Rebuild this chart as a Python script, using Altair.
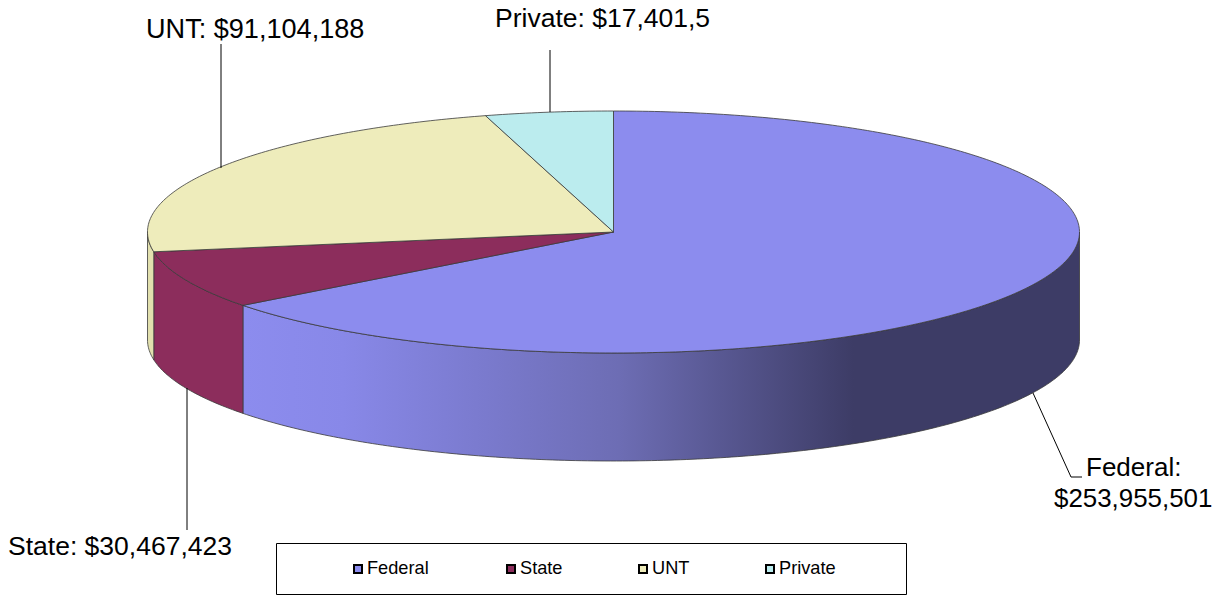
import math
import altair as alt
import pandas as pd

categories = ["Federal", "State", "UNT", "Private"]
values = [253955501, 30467423, 91104188, 17401500]
top_colors = ["#8C8CEE", "#8C2D5C", "#EEECBB", "#BBECEE"]
side_colors = ["#8C8CEE", "#8C2D5C", "#E2E0AE", "#BBECEE"]
label_lines = ["Federal:", "$253,955,501", "State: $30,467,423", "UNT: $91,104,188", "Private: $17,401,5"]
label_x = [1086, 1054, 8, 146, 495]
label_y = [476, 507, 555, 38, 27]
label_size = [26.0, 25.9, 26.5, 27.1, 26.5]
legend_x = [358, 511, 643, 770]

CX, CY, RX, RY, DEPTH = 613.5, 232, 466, 121, 108
XS = alt.Scale(domain=[8, 1217], nice=False, zero=False)
YS = alt.Scale(domain=[595, 8], nice=False, zero=False)
X = alt.X("x:Q", axis=None, scale=XS)
Y = alt.Y("y:Q", axis=None, scale=YS)

def pt(t, dy=0):
    return CX + RX * math.sin(t), CY - RY * math.cos(t) + dy

def arc(a, b, dy=0):
    n = max(2, int(abs(b - a) * 80))
    return [pt(a + (b - a) * i / n, dy) for i in range(n + 1)]

def poly(points, fill, stroke="#3A3A3A", width=0.8):
    df = pd.DataFrame(points, columns=["x", "y"])
    df["i"] = range(len(df))
    return alt.Chart(df).mark_line(fill=fill, stroke=stroke, strokeWidth=width, clip=False).encode(
        x=X, y=Y, order="i:Q")

total = sum(values)
edges = [0.0]
for v in values:
    edges.append(edges[-1] + v / total * 2 * math.pi)

layers = []
federal_grad = alt.Gradient(
    gradient="linear", x1=0, x2=1, y1=0, y2=0,
    stops=[alt.GradientStop(offset=0.0, color="#8C8CEE"),
           alt.GradientStop(offset=0.12, color="#8888E8"),
           alt.GradientStop(offset=0.45, color="#6D6DB4"),
           alt.GradientStop(offset=0.73, color="#3D3C66"),
           alt.GradientStop(offset=1.0, color="#3D3C66")])
side_fill = [federal_grad, side_colors[1], side_colors[2]]
limits = [(math.pi / 2, edges[1]), (edges[1], edges[2]), (edges[2], 1.5 * math.pi)]
for (a, b), fill in zip(limits, side_fill):
    up = arc(a, b)
    down = arc(b, a, DEPTH)
    layers.append(poly(up + down + [up[0]], fill))
for i in range(4):
    pts = [(CX, CY)] + arc(edges[i], edges[i + 1]) + [(CX, CY)]
    layers.append(poly(pts, top_colors[i]))

leaders = [
    [(1033, 393), (1071, 477), (1082, 477)],
    [(187, 388), (187, 530)],
    [(221, 168), (221, 44)],
    [(550, 112), (550, 50)],
]
for l in leaders:
    df = pd.DataFrame(l, columns=["x", "y"])
    df["i"] = range(len(df))
    layers.append(alt.Chart(df).mark_line(color="#000000", strokeWidth=1).encode(x=X, y=Y, order="i:Q"))

labels = pd.DataFrame({"x": label_x, "y": label_y, "t": label_lines, "s": label_size})
layers.append(alt.Chart(labels).mark_text(align="left", baseline="alphabetic", font="Liberation Sans",
                                          color="#000000").encode(
    x=X, y=Y, text="t:N", size=alt.Size("s:Q", scale=None, legend=None)))

box = pd.DataFrame({"x": [276.5], "x2": [906.5], "y": [543.5], "y2": [594.5]})
layers.append(alt.Chart(box).mark_rect(fill="#FFFFFF", stroke="#000000", strokeWidth=1).encode(
    x=X, y=Y, x2="x2:Q", y2="y2:Q"))
leg = pd.DataFrame({"x": legend_x, "y": [569] * 4, "c": categories, "f": top_colors,
                    "tx": [v + 9 for v in legend_x]})
layers.append(alt.Chart(leg).mark_point(shape="square", filled=True, size=64, stroke="#000000",
                                        strokeWidth=2, opacity=1).encode(
    x=X, y=Y, fill=alt.Fill("f:N", scale=None)))
layers.append(alt.Chart(leg).mark_text(align="left", baseline="middle", font="Liberation Sans",
                                       fontSize=18.2, color="#000000").encode(
    x=alt.X("tx:Q", axis=None, scale=XS),
    y=alt.Y("y:Q", axis=None, scale=YS),
    text="c:N"))

chart = alt.layer(*layers).properties(
    width=1209, height=587, padding=0, autosize=alt.AutoSizeParams(type="none"),
    background="#FFFFFF"
).configure_view(stroke=None)
chart.save("out.html", embed_options={"renderer": "svg", "actions": False})
